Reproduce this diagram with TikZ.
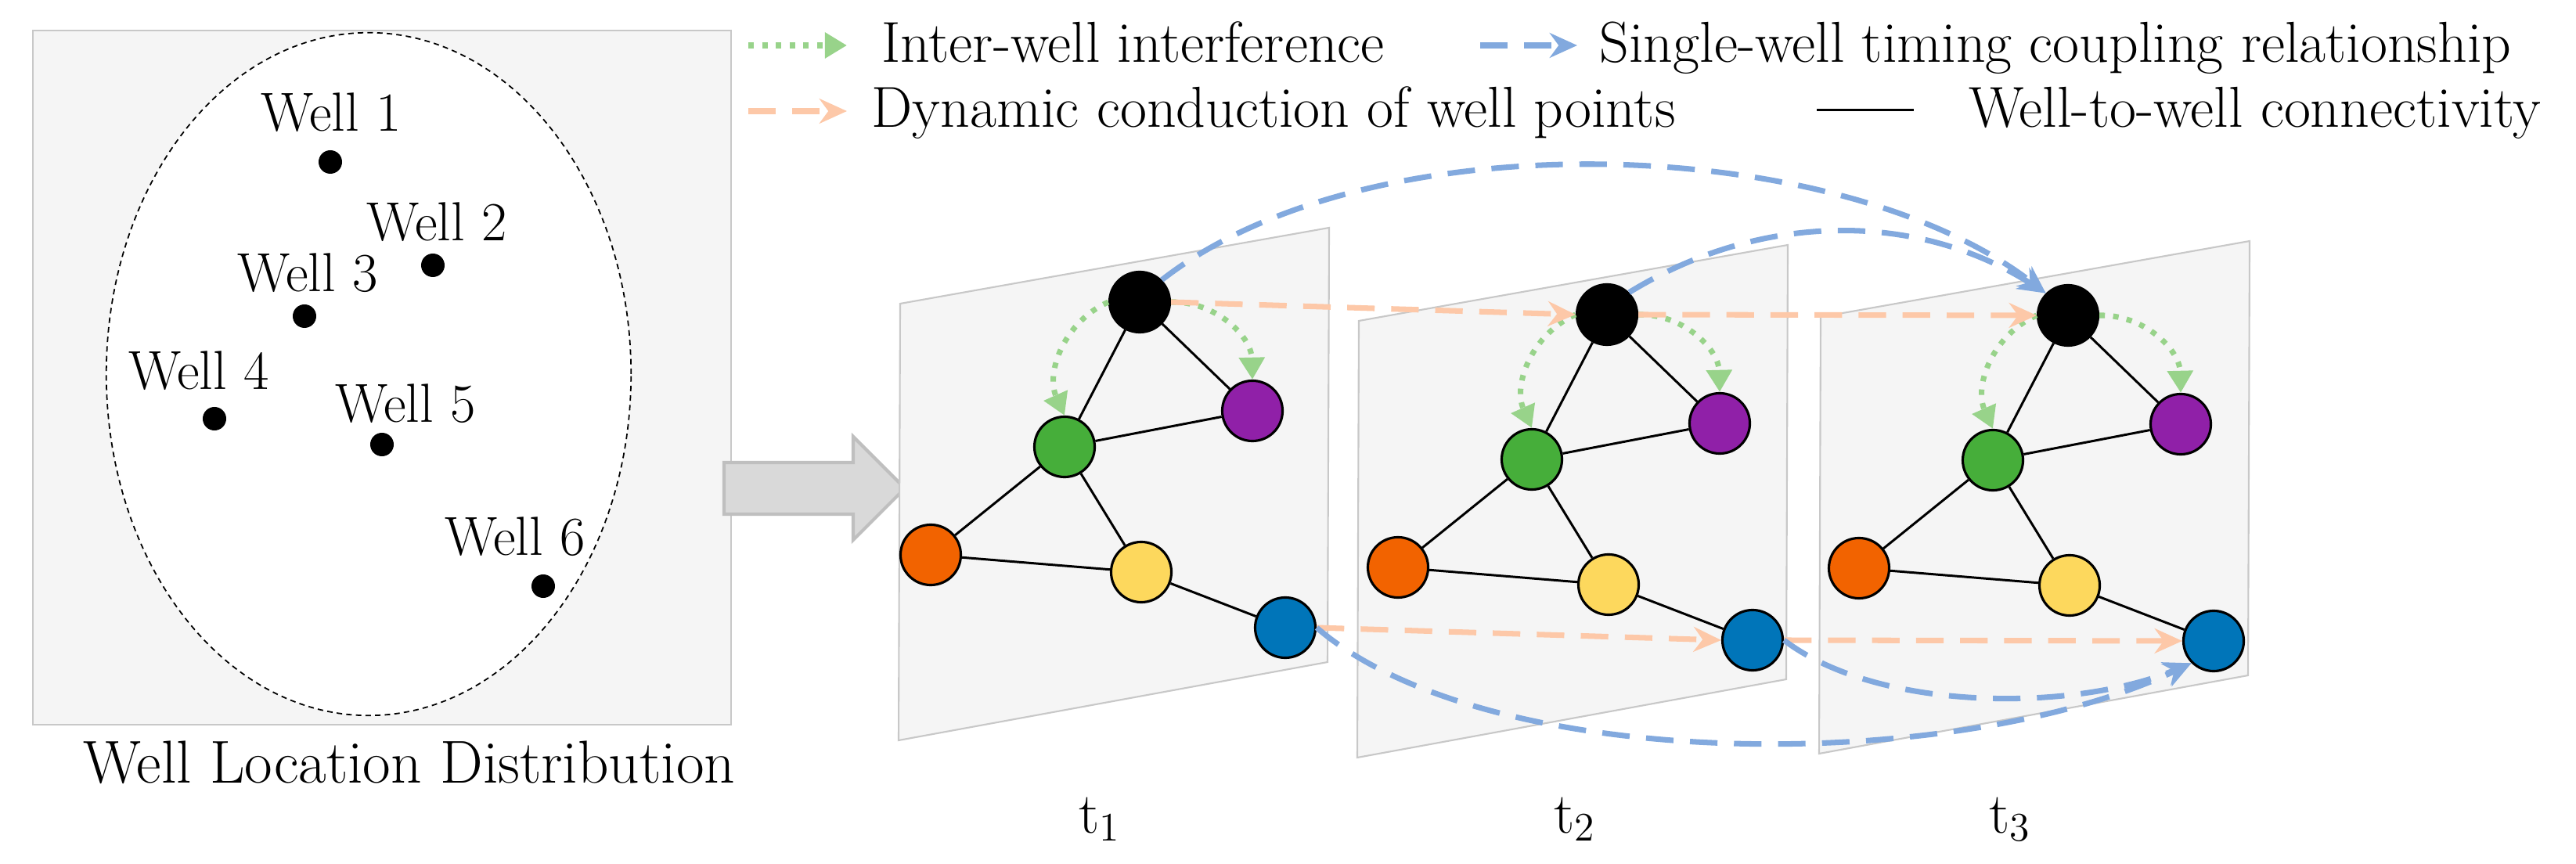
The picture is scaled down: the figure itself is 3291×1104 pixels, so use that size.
\documentclass[tikz,border=0pt]{standalone}
\usetikzlibrary{arrows.meta,shapes.geometric}
\definecolor{cgreen}{HTML}{46AE3A}
\definecolor{cpurple}{HTML}{9020A8}
\definecolor{corange}{HTML}{F26300}
\definecolor{cyellow}{HTML}{FDD85D}
\definecolor{cblue}{HTML}{0075B9}
\definecolor{aBlue}{HTML}{82A9DE}
\definecolor{aOrange}{HTML}{FDC8A8}
\definecolor{aGreen}{HTML}{98D38A}
\definecolor{panel}{HTML}{F5F5F5}
\definecolor{pborder}{HTML}{C8C8C8}
\tikzset{
  x=0.01cm,y=-0.01cm,
  txt/.style={font=\fontsize{20pt}{24pt}\selectfont,inner sep=0pt},
  leg/.style={font=\fontsize{21pt}{25pt}\selectfont,inner sep=0pt},
  well/.style={circle,draw=black,line width=0.9pt,minimum size=0.77cm,inner sep=0pt},
  dot/.style={circle,fill=black,minimum size=0.3cm,inner sep=0pt},
  edge/.style={line width=0.85pt,black},
  frame/.style={fill=panel,draw=pborder,line width=0.6pt},
  inter/.style={aGreen,line width=2pt,dash pattern=on 2pt off 3pt,-{Triangle[length=8pt,width=9pt]}},
  cond/.style={aOrange,line width=2pt,dash pattern=on 10pt off 6pt,-{Stealth[length=10pt,width=9pt]}},
  coup/.style={aBlue,line width=2pt,dash pattern=on 10pt off 6pt,-{Stealth[length=10pt,width=9pt]}},
}
\newcommand\wellframe[5]{% id, frame dx, frame dy, node dx, node dy
  \begin{scope}[shift={(#2,#3)}]
    \path[frame] (1150,388) -- (1698,291) -- (1696,846) -- (1148,946) -- cycle;
  \end{scope}
  \begin{scope}[shift={(#4,#5)}]
    \node[well,fill=black]   (b#1) at (1456,386) {};
    \node[well,fill=cpurple] (p#1) at (1600,525) {};
    \node[well,fill=cgreen]  (g#1) at (1360,571) {};
    \node[well,fill=corange] (o#1) at (1189,709) {};
    \node[well,fill=cyellow] (y#1) at (1458,731) {};
    \node[well,fill=cblue]   (l#1) at (1642,802) {};
  \end{scope}
  \draw[edge] (b#1) -- (g#1);
  \draw[edge] (b#1) -- (p#1);
  \draw[edge] (g#1) -- (p#1);
  \draw[edge] (g#1) -- (o#1);
  \draw[edge] (g#1) -- (y#1);
  \draw[edge] (o#1) -- (y#1);
  \draw[edge] (y#1) -- (l#1);
  \draw[inter] (b#1.west) to[bend right=45] (g#1.north);
  \draw[inter] (b#1.east) to[bend left=45] (p#1.north);
}
\begin{document}
\begin{tikzpicture}
\path[use as bounding box,fill=white] (0,0) rectangle (3291,1104);
% left panel
\path[fill=panel,draw=pborder,line width=0.6pt] (42,39) rectangle (934,926);
\node[draw=black,fill=white,ellipse,dash pattern=on 2pt off 1.5pt,line width=0.5pt,minimum width=6.7cm,minimum height=8.72cm] (area) at (471,478) {};
\node[dot] (w1) at (422,207) {};
\node[dot] (w2) at (553,339) {};
\node[dot] (w3) at (389,404) {};
\node[dot] (w4) at (274,535) {};
\node[dot] (w5) at (488,568) {};
\node[dot] (w6) at (694,749) {};
\node[txt,anchor=base] (l1) at (423,168) {Well 1};
\node[txt,anchor=base] (l2) at (558,308) {Well 2};
\node[txt,anchor=base] (l3) at (393,373) {Well 3};
\node[txt,anchor=base] (l4) at (254,498) {Well 4};
\node[txt,anchor=base] (l5) at (518,540) {Well 5};
\node[txt,anchor=base] (l6) at (658,710) {Well 6};
\node[txt,anchor=base,font=\fontsize{22pt}{26pt}\selectfont] (cap) at (523,1000) {Well Location Distribution};
% big arrow
\path[fill=black!15,draw=black!25,line width=1.2pt] (925,591) -- (1090,591) -- (1090,558) -- (1156,624) -- (1090,690) -- (1090,657) -- (925,657) -- cycle;
% frames
\wellframe{1}{0}{0}{0}{0}
\wellframe{2}{586}{22}{597}{16}
\wellframe{3}{1176}{17}{1186}{17}
% conduction
\draw[cond] (b1.east) -- (b2.west);
\draw[cond] (b2.east) -- (b3.west);
\draw[cond] (l1.east) -- (l2.west);
\draw[cond] (l2.east) -- (l3.west);
% coupling
\draw[coup] (b1.north east) .. controls (1750,150) and (2350,170) .. (b3.north west);
\draw[coup] (b2.north east) .. controls (2250,270) and (2450,270) .. (b3.north west);
\draw[coup] (l1.east) .. controls (1900,990) and (2500,990) .. (l3.south west);
\draw[coup] (l2.east) .. controls (2400,910) and (2650,910) .. (l3.south west);
% time labels
\node[leg,anchor=base] (t1) at (1405,1064) {t\textsubscript{1}};
\node[leg,anchor=base] (t2) at (2012,1064) {t\textsubscript{2}};
\node[leg,anchor=base] (t3) at (2568,1064) {t\textsubscript{3}};
% legend
\coordinate (a1s) at (956,58); \coordinate (a1e) at (1082,58);
\coordinate (a2s) at (1891,58); \coordinate (a2e) at (2015,58);
\coordinate (a3s) at (956,142); \coordinate (a3e) at (1082,142);
\coordinate (a4s) at (2321,141); \coordinate (a4e) at (2445,141);
\draw[inter] (a1s) -- (a1e);
\draw[coup] (a2s) -- (a2e);
\draw[cond] (a3s) -- (a3e);
\draw[edge] (a4s) -- (a4e);
\node[leg,anchor=base west] (g1t) at (1126,80) {Inter-well interference};
\node[leg,anchor=base west] (g2t) at (2043,80) {Single-well timing coupling relationship};
\node[leg,anchor=base west] (g3t) at (1113,163) {Dynamic conduction of well points};
\node[leg,anchor=base east] (g4t) at (3247,163) {Well-to-well connectivity};
\end{tikzpicture}
\end{document}
